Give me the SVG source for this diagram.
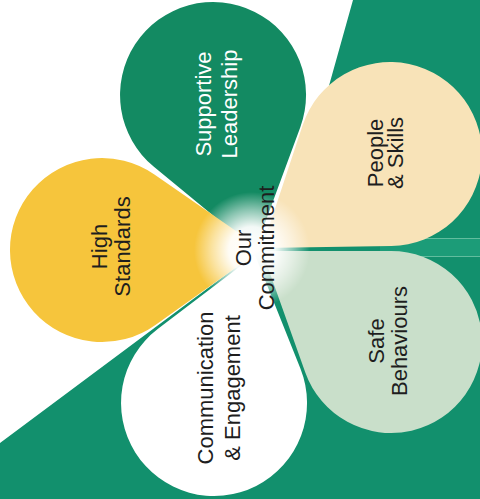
<svg xmlns="http://www.w3.org/2000/svg" width="480" height="499" viewBox="0 0 480 499">
  <defs>
    <radialGradient id="glow" cx="0.5" cy="0.5" r="0.5">
      <stop offset="0" stop-color="#ffffff" stop-opacity="1"/>
      <stop offset="0.4" stop-color="#ffffff" stop-opacity="0.95"/>
      <stop offset="0.7" stop-color="#ffffff" stop-opacity="0.5"/>
      <stop offset="1" stop-color="#ffffff" stop-opacity="0"/>
    </radialGradient>
    <style>
      .lbl { font-family: "Liberation Sans", Arial, Helvetica, sans-serif; font-size: 22px; text-anchor: middle; fill: #1e1e1e; }
      .lbl.light { fill: #ffffff; }
      .petal { stroke: none; }
    </style>
  </defs>

  <rect x="0" y="0" width="480" height="499" fill="#ffffff"/>

  <g id="background">
    <polygon points="353,0 480,0 480,499 0,499 0,443 255,253 311,150" fill="#12906d"/>
    <rect x="380" y="238" width="100" height="19" fill="#1c9c78"/>
    <line x1="380" y1="238.5" x2="480" y2="238.5" stroke="#8fd4b8" stroke-width="1" opacity="0.6"/>
    <line x1="380" y1="256.5" x2="480" y2="256.5" stroke="#8fd4b8" stroke-width="1" opacity="0.6"/>
  </g>

  <g id="petal-supportive-leadership">
    <path class="petal" d="M255,250 L153.9,166.8 A93,93 0 1 1 300.3,127.2 Z" fill="#138a62"/>
  </g>
  <g id="petal-communication-engagement">
    <path class="petal" d="M255,255 L300.4,368.5 A93,93 0 1 1 157.7,329 Z" fill="#ffffff"/>
  </g>
  <g id="petal-high-standards">
    <path class="petal" d="M262,249 L155.4,324.9 A92,92 0 1 1 154.4,174.4 Z" fill="#f6c53c"/>
  </g>
  <g id="petal-people-skills">
    <path class="petal" d="M262,248 L302.7,125.1 A92,92 0 1 1 391.4,246 Z" fill="#f8e3b8"/>
  </g>
  <g id="petal-safe-behaviours">
    <path class="petal" d="M262,251 L391,251 A91,91 0 1 1 305.3,372.5 Z" fill="#c9dfca"/>
  </g>

  <g id="centre-our-commitment">
    <circle cx="252" cy="250" r="58" fill="url(#glow)"/>
    <text class="lbl" transform="translate(251,248) rotate(-90)"><tspan x="0" y="0">Our</tspan><tspan x="0" y="23">Commitment</tspan></text>
  </g>

  <g id="labels">
    <text class="lbl light" transform="translate(211,104) rotate(-90)"><tspan x="0" y="0">Supportive</tspan><tspan x="0" y="26">Leadership</tspan></text>
    <text class="lbl" transform="translate(383,153) rotate(-90)"><tspan x="0" y="0">People</tspan><tspan x="0" y="20">&amp; Skills</tspan></text>
    <text class="lbl" transform="translate(107,246.5) rotate(-90)"><tspan x="0" y="0">High</tspan><tspan x="0" y="23">Standards</tspan></text>
    <text class="lbl" transform="translate(212.5,388) rotate(-90)"><tspan x="0" y="0">Communication</tspan><tspan x="0" y="27.5">&amp; Engagement</tspan></text>
    <text class="lbl" transform="translate(384,341) rotate(-90)"><tspan x="0" y="0">Safe</tspan><tspan x="0" y="23">Behaviours</tspan></text>
  </g>
</svg>
